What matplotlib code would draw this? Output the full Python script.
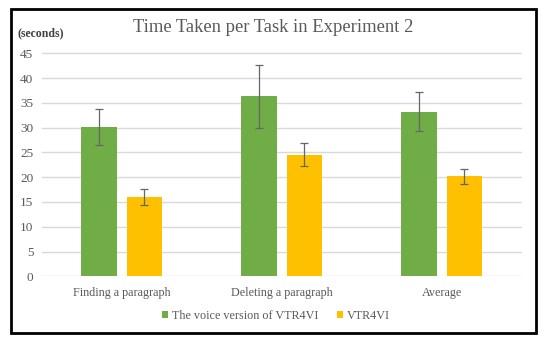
import matplotlib
matplotlib.use("Agg")
import matplotlib.pyplot as plt
import numpy as np
from matplotlib.patches import Rectangle

categories = ["Finding a paragraph", "Deleting a paragraph", "Average"]
voice_means = [30.1, 36.3, 33.2]
voice_err = [3.7, 6.3, 3.9]
vtr_means = [16.0, 24.5, 20.2]
vtr_err = [1.6, 2.3, 1.5]
series_names = ["The voice version of VTR4VI", "VTR4VI"]
yticks = [0, 5, 10, 15, 20, 25, 30, 35, 40, 45]

GREEN = "#70AD47"
YELLOW = "#FFC000"
GRAY = "#595959"

plt.rcParams["font.family"] = ["Liberation Serif", "DejaVu Serif"]

fig = plt.figure(figsize=(5.5, 3.45), dpi=100)
W, H = 550, 345
# plot area: x 41.7..521.7 px, y=0 at 276.3 px, y=45 at 53.3 px
ax = fig.add_axes([41.7 / W, 1 - 276.3 / H, 480 / W, 224 / H])

x = np.arange(len(categories))
bw = 0.222
gap = 0.0625
ekw = dict(ecolor="#666666", elinewidth=0.9, capsize=3, capthick=0.9)
ax.bar(x - (bw + gap) / 2, voice_means, bw, color=GREEN, yerr=voice_err,
       error_kw=ekw, label=series_names[0], zorder=3)
ax.bar(x + (bw + gap) / 2, vtr_means, bw, color=YELLOW, yerr=vtr_err,
       error_kw=ekw, label=series_names[1], zorder=3)

ax.set_xlim(-0.5, 2.5)
ax.set_ylim(0, 45.2)
ax.set_yticks(yticks)
ax.set_yticklabels([str(t) for t in yticks])
ax.set_xticks(x)
ax.set_xticklabels(categories)
ax.tick_params(axis="both", length=0, colors=GRAY)
ax.tick_params(axis="y", pad=6, labelsize=9.5)
ax.tick_params(axis="x", pad=8, labelsize=8.7)
ax.grid(axis="y", color="#D9D9D9", linewidth=1, zorder=0)
for s in ax.spines.values():
    s.set_visible(False)

fig.text(273 / W, 1 - 28 / H, "Time Taken per Task in Experiment 2",
         ha="center", va="center", fontsize=13.4, color=GRAY)
fig.text(17 / W, 1 - 33 / H, "(seconds)", ha="left", va="center",
         fontsize=8.5, fontweight="bold", color="#404040")

fig.legend(loc="center", bbox_to_anchor=(276 / W, 1 - 316 / H), ncol=2,
           frameon=False, fontsize=8.7, handlelength=0.5, handleheight=0.5,
           handletextpad=0.3, columnspacing=1.6, labelcolor=GRAY)

fig.patches.append(Rectangle((11 / W, 1 - 333 / H), 525 / W, 324 / H,
                             transform=fig.transFigure, fill=False,
                             edgecolor="black", linewidth=2))

fig.savefig("out.png", dpi=100)
